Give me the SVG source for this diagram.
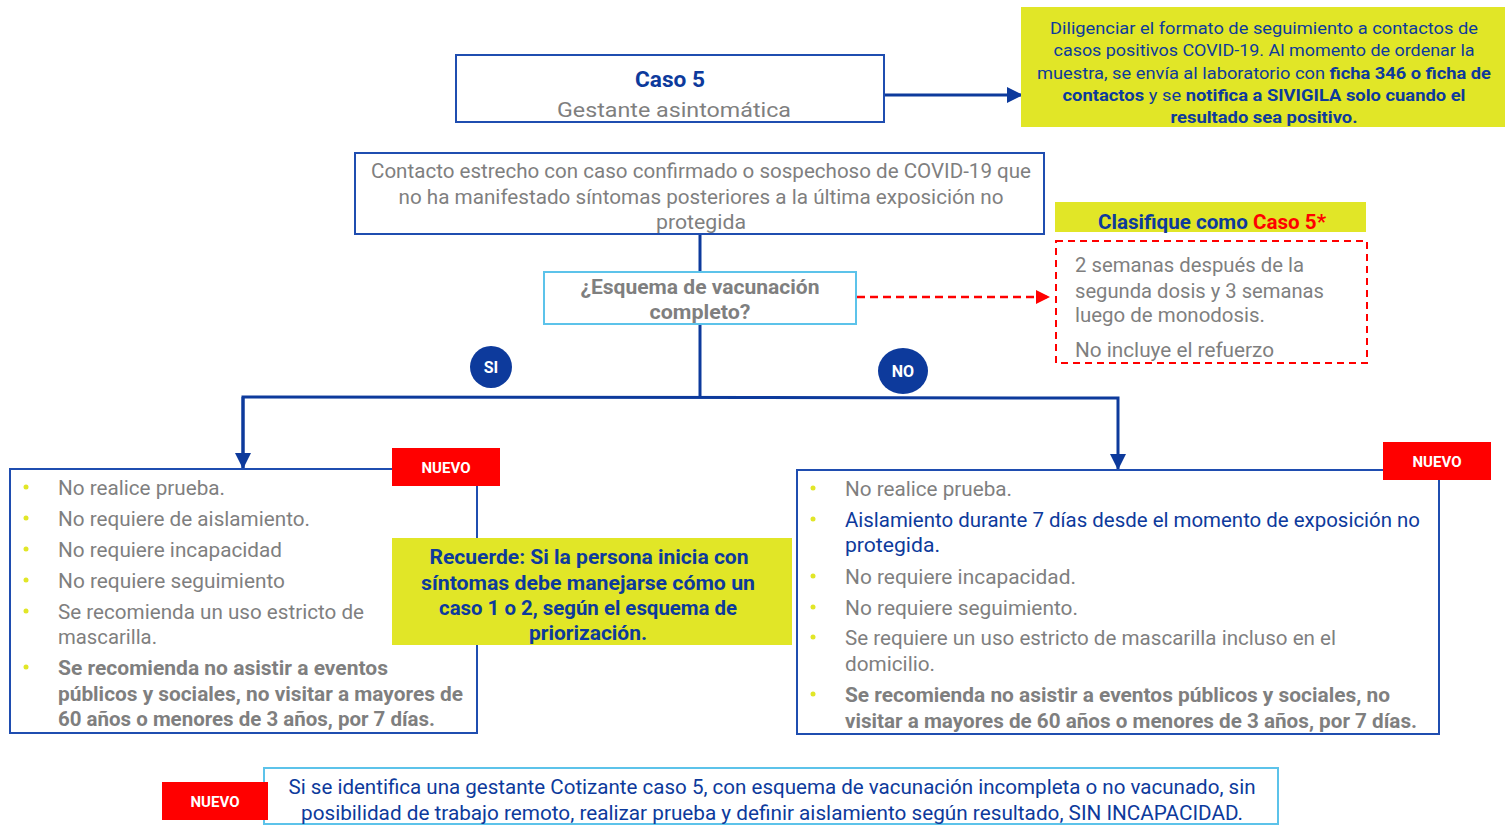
<svg xmlns="http://www.w3.org/2000/svg" width="1512" height="825" viewBox="0 0 1512 825">
<style>
text{font-family:Roboto,"Liberation Sans",sans-serif}
.g{fill:#7f7f7f;font-size:20px}
.gb{fill:#7f7f7f;font-size:20px;font-weight:bold}
.b{fill:#0d3a9c}
.bb{fill:#0d3a9c;font-weight:bold}
.box{fill:#fff;stroke:#1f4db0;stroke-width:2}
.lbox{fill:#fff;stroke:#5cc3ea;stroke-width:2}
.yel{fill:#e1e627}
.red{fill:#ff0000}
.nv{fill:#fff;font-size:15px;font-weight:bold;text-anchor:middle}
.c{text-anchor:middle}
.bul{fill:#e1e627}
.con{fill:none;stroke:#0d3a9c;stroke-width:3}
</style>
<defs>
<marker id="ab" markerWidth="10" markerHeight="10" refX="9" refY="5" orient="auto" markerUnits="userSpaceOnUse" viewBox="0 0 10 10"><path d="M0,0 L10,5 L0,10 z" fill="#0d3a9c"/></marker>
<marker id="ar" markerWidth="14" markerHeight="14" refX="13" refY="7" orient="auto" markerUnits="userSpaceOnUse" viewBox="0 0 14 14"><path d="M0,0 L14,7 L0,14 z" fill="#ff0000"/></marker>
<marker id="abig" markerWidth="16" markerHeight="16" refX="15" refY="8" orient="auto" markerUnits="userSpaceOnUse" viewBox="0 0 16 16"><path d="M0,0 L16,8 L0,16 z" fill="#0d3a9c"/></marker>
</defs>

<g id="connectors">
<line class="con" x1="885" y1="95" x2="1022" y2="95" marker-end="url(#abig)"/>
<line class="con" x1="700" y1="234" x2="700" y2="272"/>
<line class="con" x1="700" y1="324" x2="700" y2="397"/>
<polyline class="con" points="243,468 243,397 1118,398 1118,469" marker-start="url(#abig)" marker-end="url(#abig)" style="marker-start:none"/>
<line class="con" x1="243" y1="397" x2="243" y2="468" marker-end="url(#abig)"/>
<line x1="857" y1="297" x2="1049" y2="297" stroke="#ff0000" stroke-width="2.5" stroke-dasharray="8,5" marker-end="url(#ar)"/>
</g>

<g id="info-top">
<rect class="yel" x="1021" y="7" width="484" height="120"/>
<text class="b c" font-size="17" x="1264" y="34" textLength="428" lengthAdjust="spacingAndGlyphs">Diligenciar el formato de seguimiento a  contactos de</text>
<text class="b c" font-size="17" x="1264" y="56" textLength="421" lengthAdjust="spacingAndGlyphs">casos positivos COVID-19.  Al  momento de ordenar la</text>
<text class="b c" font-size="17" x="1264" y="79" textLength="454" lengthAdjust="spacingAndGlyphs">muestra, se envía  al laboratorio con <tspan font-weight="bold">ficha 346 o ficha de</tspan></text>
<text class="b c" font-size="17" x="1264" y="101" textLength="403" lengthAdjust="spacingAndGlyphs"><tspan font-weight="bold">contactos</tspan> y se <tspan font-weight="bold">notifica a SIVIGILA  solo cuando el</tspan></text>
<text class="bb c" font-size="17" x="1264" y="123" textLength="187" lengthAdjust="spacingAndGlyphs">resultado sea positivo.</text>
</g>

<g id="caso5">
<rect class="box" x="456" y="55" width="428" height="67"/>
<text class="bb c" font-size="22" x="670" y="87" textLength="70" lengthAdjust="spacingAndGlyphs">Caso 5</text>
<text class="g c" font-size="22" x="674" y="117" textLength="234" lengthAdjust="spacingAndGlyphs">Gestante asintomática</text>
</g>

<g id="contacto">
<rect class="box" x="355" y="153" width="689" height="81"/>
<text class="g c" x="701" y="178" textLength="660" lengthAdjust="spacingAndGlyphs">Contacto estrecho con caso confirmado o sospechoso de COVID-19  que</text>
<text class="g c" x="701" y="204" textLength="605" lengthAdjust="spacingAndGlyphs">no ha manifestado síntomas posteriores a  la última exposición no</text>
<text class="g c" x="701" y="229" textLength="90" lengthAdjust="spacingAndGlyphs">protegida</text>
</g>

<g id="pregunta">
<rect class="lbox" x="544" y="272" width="312" height="52"/>
<text class="gb c" x="700" y="294" textLength="239" lengthAdjust="spacingAndGlyphs">¿Esquema de vacunación</text>
<text class="gb c" x="700" y="319" textLength="101" lengthAdjust="spacingAndGlyphs">completo?</text>
</g>

<g id="clasifique">
<rect class="yel" x="1055" y="202" width="311" height="30"/>
<text class="bb c" font-size="20" x="1212" y="229" textLength="228" lengthAdjust="spacingAndGlyphs">Clasifique como <tspan fill="#ff0000">Caso 5*</tspan></text>
</g>

<g id="definicion">
<rect x="1056" y="241" width="311" height="122" fill="#fff" stroke="#ff0000" stroke-width="2" stroke-dasharray="7,5"/>
<text class="g" x="1075" y="272" textLength="229" lengthAdjust="spacingAndGlyphs">2 semanas después de la</text>
<text class="g" x="1075" y="298" textLength="249" lengthAdjust="spacingAndGlyphs">segunda dosis y 3 semanas</text>
<text class="g" x="1075" y="322" textLength="190" lengthAdjust="spacingAndGlyphs">luego de monodosis.</text>
<text class="g" x="1075" y="357" textLength="199" lengthAdjust="spacingAndGlyphs">No incluye el refuerzo</text>
</g>

<g id="si">
<circle cx="491" cy="367" r="21" fill="#0d3a9c"/>
<text fill="#fff" font-size="16" font-weight="bold" class="c" x="491" y="373">SI</text>
</g>
<g id="no">
<ellipse cx="903" cy="371" rx="25" ry="23" fill="#0d3a9c"/>
<text fill="#fff" font-size="16" font-weight="bold" class="c" x="903" y="377">NO</text>
</g>

<g id="si-box">
<rect class="box" x="10" y="469" width="467" height="264"/>
<g class="bul">
<circle cx="26" cy="487" r="2.5"/><circle cx="26" cy="518" r="2.5"/><circle cx="26" cy="549" r="2.5"/><circle cx="26" cy="580" r="2.5"/><circle cx="26" cy="611" r="2.5"/><circle cx="26" cy="667" r="2.5"/>
</g>
<text class="g" x="58" y="495" textLength="167" lengthAdjust="spacingAndGlyphs">No realice prueba.</text>
<text class="g" x="58" y="526" textLength="252" lengthAdjust="spacingAndGlyphs">No requiere de aislamiento.</text>
<text class="g" x="58" y="557" textLength="224" lengthAdjust="spacingAndGlyphs">No requiere incapacidad</text>
<text class="g" x="58" y="588" textLength="227" lengthAdjust="spacingAndGlyphs">No requiere seguimiento</text>
<text class="g" x="58" y="619" textLength="306" lengthAdjust="spacingAndGlyphs">Se recomienda un uso estricto de</text>
<text class="g" x="58" y="644" textLength="99" lengthAdjust="spacingAndGlyphs">mascarilla.</text>
<text class="gb" x="58" y="675" textLength="330" lengthAdjust="spacingAndGlyphs">Se recomienda no asistir a eventos</text>
<text class="gb" x="58" y="701" textLength="405" lengthAdjust="spacingAndGlyphs">públicos y sociales, no visitar a mayores de</text>
<text class="gb" x="58" y="726" textLength="377" lengthAdjust="spacingAndGlyphs">60 años o menores de 3 años, por 7 días.</text>
</g>

<g id="nuevo-si">
<rect class="red" x="392" y="448" width="108" height="38"/>
<text class="nv" x="446" y="473">NUEVO</text>
</g>

<g id="recuerde">
<rect class="yel" x="392" y="538" width="400" height="107"/>
<text class="bb c" font-size="20" x="589" y="564" textLength="319" lengthAdjust="spacingAndGlyphs">Recuerde: Si la persona inicia con</text>
<text class="bb c" font-size="20" x="588" y="590" textLength="334" lengthAdjust="spacingAndGlyphs">síntomas debe  manejarse cómo un</text>
<text class="bb c" font-size="20" x="588" y="615" textLength="298" lengthAdjust="spacingAndGlyphs">caso 1 o 2, según el esquema de</text>
<text class="bb c" font-size="20" x="588" y="640" textLength="118" lengthAdjust="spacingAndGlyphs">priorización.</text>
</g>

<g id="no-box">
<rect class="box" x="797" y="470" width="642" height="264"/>
<g class="bul">
<circle cx="813" cy="488" r="2.5"/><circle cx="813" cy="519" r="2.5"/><circle cx="813" cy="576" r="2.5"/><circle cx="813" cy="607" r="2.5"/><circle cx="813" cy="637" r="2.5"/><circle cx="813" cy="694" r="2.5"/>
</g>
<text class="g" x="845" y="496" textLength="167" lengthAdjust="spacingAndGlyphs">No realice prueba.</text>
<text class="b" font-size="20" x="845" y="527" textLength="575" lengthAdjust="spacingAndGlyphs">Aislamiento durante 7 días desde el momento de exposición no</text>
<text class="b" font-size="20" x="845" y="552" textLength="95" lengthAdjust="spacingAndGlyphs">protegida.</text>
<text class="g" x="845" y="584" textLength="231" lengthAdjust="spacingAndGlyphs">No requiere incapacidad.</text>
<text class="g" x="845" y="615" textLength="233" lengthAdjust="spacingAndGlyphs">No requiere seguimiento.</text>
<text class="g" x="845" y="645" textLength="491" lengthAdjust="spacingAndGlyphs">Se requiere un uso estricto de mascarilla incluso en el</text>
<text class="g" x="845" y="671" textLength="90" lengthAdjust="spacingAndGlyphs">domicilio.</text>
<text class="gb" x="845" y="702" textLength="545" lengthAdjust="spacingAndGlyphs">Se recomienda no asistir a eventos públicos y sociales, no</text>
<text class="gb" x="845" y="728" textLength="572" lengthAdjust="spacingAndGlyphs">visitar a mayores de 60 años o menores de 3 años, por 7 días.</text>
</g>

<g id="nuevo-no">
<rect class="red" x="1383" y="442" width="108" height="38"/>
<text class="nv" x="1437" y="467">NUEVO</text>
</g>

<g id="nota">
<rect class="lbox" x="264" y="768" width="1014" height="56"/>
<text class="b c" font-size="20" x="772" y="794" textLength="967" lengthAdjust="spacingAndGlyphs">Si se identifica una gestante Cotizante caso 5, con esquema de vacunación incompleta o no vacunado, sin</text>
<text class="b c" font-size="20" x="772" y="820" textLength="942" lengthAdjust="spacingAndGlyphs">posibilidad de trabajo remoto, realizar prueba y definir aislamiento según resultado, SIN INCAPACIDAD.</text>
</g>

<g id="nuevo-nota">
<rect class="red" x="162" y="782" width="106" height="38"/>
<text class="nv" x="215" y="807">NUEVO</text>
</g>
</svg>
